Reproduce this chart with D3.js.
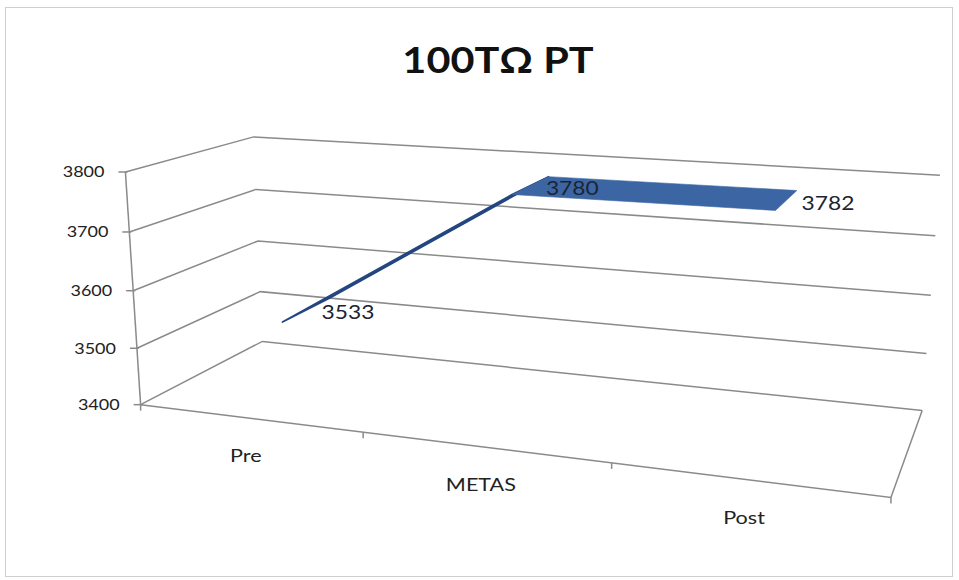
<!DOCTYPE html>
<html>
<head>
<meta charset="utf-8">
<script src="https://cdn.jsdelivr.net/npm/d3@7"></script>
<style>
  html, body { margin: 0; padding: 0; background: #fff; }
  svg { display: block; }
  text { font-family: Lato, "Open Sans", sans-serif; }
</style>
</head>
<body>
<svg id="chart" width="959" height="580"></svg>
<script>
// ---- data ----
const chartTitle = "100TΩ PT";
const categories = ["Pre", "METAS", "Post"];
const values = [3533, 3780, 3782];
const valueTicks = [3400, 3500, 3600, 3700, 3800];

// ---- layout ----
const W = 959, H = 580;
const svg = d3.select("#chart");

// Screen positions of the plot box corners; the camera is fitted to these.
// Unit box: x runs along the categories, y along the values, z from front (0) to back (1).
const boxCorners = [
  [[0, 0, 0], [140, 405]],
  [[0, 1, 0], [126, 172]],
  [[1, 0, 0], [891, 497]],
  [[0, 0, 1], [263, 341]],
  [[0, 1, 1], [253, 137]],
  [[1, 0, 1], [922, 411]],
  [[1, 1, 1], [940, 175]]
];
const ribbonDepth = [0.3, 0.72];    // front and back z of the series ribbon
const textStretch = 1.2;            // horizontal stretch of the chart text

// Least-squares fit of a 3x4 perspective matrix (last entry fixed to 1).
function fitCamera(pairs) {
  const A = [], b = [];
  pairs.forEach(([[X, Y, Z], [u, v]]) => {
    A.push([X, Y, Z, 1, 0, 0, 0, 0, -u * X, -u * Y, -u * Z]); b.push(u);
    A.push([0, 0, 0, 0, X, Y, Z, 1, -v * X, -v * Y, -v * Z]); b.push(v);
  });
  const n = 11;
  const M = d3.range(n).map(i => d3.range(n + 1).map(j =>
    j < n ? d3.sum(A, r => r[i] * r[j]) : d3.sum(A, (r, k) => r[i] * b[k])));
  for (let c = 0; c < n; c++) {
    let p = c;
    for (let r = c + 1; r < n; r++) if (Math.abs(M[r][c]) > Math.abs(M[p][c])) p = r;
    [M[c], M[p]] = [M[p], M[c]];
    for (let r = 0; r < n; r++) {
      if (r === c) continue;
      const f = M[r][c] / M[c][c];
      for (let k = c; k <= n; k++) M[r][k] -= f * M[c][k];
    }
  }
  const q = M.map((row, i) => row[n] / row[i]);
  return ([X, Y, Z]) => {
    const w = q[8] * X + q[9] * Y + q[10] * Z + 1;
    return [(q[0] * X + q[1] * Y + q[2] * Z + q[3]) / w,
            (q[4] * X + q[5] * Y + q[6] * Z + q[7]) / w];
  };
}
const project = fitCamera(boxCorners);

// ---- scales ----
const x = d3.scaleBand().domain(categories).range([0, 1]);
const xMid = c => x(c) + x.bandwidth() / 2;
const y = d3.scaleLinear().domain([valueTicks[0], valueTicks[valueTicks.length - 1]]).range([0, 1]);

const line = d3.line();
const gridColor = "#8a8a8a";

// chart frame
svg.append("rect")
  .attr("x", 5.5).attr("y", 7.5).attr("width", W - 12).attr("height", H - 11)
  .attr("fill", "#fff").attr("stroke", "#cfcfcf").attr("stroke-width", 1);

// title
svg.append("text")
  .attr("transform", `translate(498,73) scale(1.12,1)`)
  .attr("text-anchor", "middle")
  .attr("font-size", 37).attr("font-weight", 700).attr("fill", "#111")
  .text(chartTitle);

// gridlines on side wall and back wall
const grid = svg.append("g").attr("fill", "none").attr("stroke", gridColor).attr("stroke-width", 1.5);
valueTicks.forEach(t => {
  const v = y(t);
  grid.append("path").attr("d", line([project([0, v, 0]), project([0, v, 1]), project([1, v, 1])]));
});

// floor edges
grid.append("path").attr("d", line([project([0, 0, 0]), project([1, 0, 0]), project([1, 0, 1])]));

// value axis with ticks crossing the axis line
const axis = svg.append("g").attr("stroke", gridColor).attr("stroke-width", 1.5).attr("fill", "none");
axis.append("path").attr("d", line([project([0, 0, 0]), project([0, 1, 0])]));
valueTicks.forEach(t => {
  const p = project([0, y(t), 0]);
  axis.append("path").attr("d", line([[p[0] - 7, p[1]], [p[0] + 2, p[1]]]));
  svg.append("text")
    .attr("transform", `translate(${p[0] - 21},${p[1]}) scale(${textStretch},1)`)
    .attr("text-anchor", "end").attr("dominant-baseline", "central")
    .attr("font-size", 15).attr("fill", "#222")
    .text(t);
});

// category axis ticks on the front floor edge
const bounds = categories.map(c => x(c)).concat([1]);
bounds.forEach(b => {
  const p = project([b, 0, 0]);
  axis.append("path").attr("d", line([p, [p[0], p[1] + 6]]));
});
categories.forEach(c => {
  const p = project([xMid(c), 0, 0]);
  svg.append("text")
    .attr("transform", `translate(${p[0] - 3},${p[1] + 37}) scale(${textStretch},1)`)
    .attr("text-anchor", "middle").attr("dominant-baseline", "central")
    .attr("font-size", 18).attr("fill", "#222")
    .text(c);
});

// series ribbon
const [zf, zb] = ribbonDepth;
const pts = categories.map((c, i) => ({ cx: xMid(c), cy: y(values[i]), v: values[i] }));
const ribbon = svg.append("g");
for (let i = 0; i < pts.length - 1; i++) {
  const a = pts[i], b = pts[i + 1];
  const quad = [project([a.cx, a.cy, zf]), project([a.cx, a.cy, zb]),
                project([b.cx, b.cy, zb]), project([b.cx, b.cy, zf])];
  const rising = b.cy - a.cy > 0.05;
  ribbon.append("path")
    .attr("d", line(quad) + "Z")
    .attr("fill", rising ? "#244680" : "#3c66a3")
    .attr("stroke", rising ? "#244680" : "#3c66a3")
    .attr("stroke-width", rising ? 1.7 : 0.6)
    .attr("stroke-linejoin", "round");
}

// data labels
pts.forEach(p => {
  const q = project([p.cx, p.cy, (zf + zb) / 2]);
  svg.append("text")
    .attr("transform", `translate(${q[0] + 15},${q[1] + 2}) scale(${textStretch},1)`)
    .attr("dominant-baseline", "central")
    .attr("font-size", 19).attr("fill", "#1b2433")
    .text(p.v);
});
</script>
</body>
</html>
